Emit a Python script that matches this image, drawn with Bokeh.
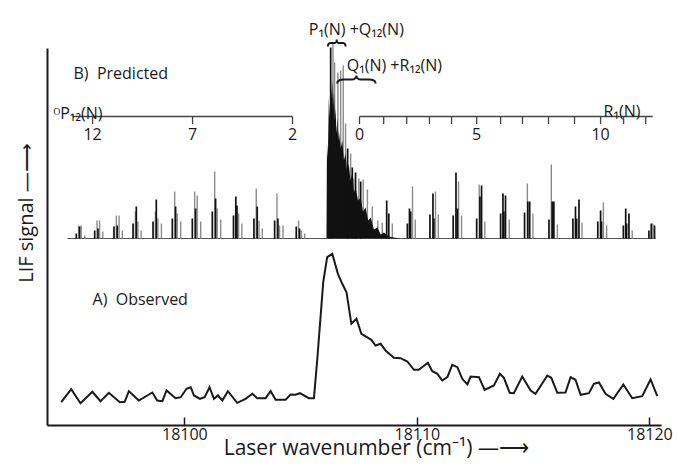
import numpy as np
from bokeh.plotting import figure
from bokeh.models import Range1d, Label
from bokeh.embed import file_html
from bokeh.resources import INLINE
from bokeh.core.properties import value

# ---------------- data ----------------
# A) observed LIF trace (wavenumber, signal in arbitrary units)
obs_wn = [18094.68, 18095.11, 18095.51, 18096.02, 18096.37, 18096.73, 18097.20, 18097.41, 18097.59,
          18098.02, 18098.60, 18098.81, 18099.03, 18099.21, 18099.60, 18099.82, 18100.07, 18100.25,
          18100.39, 18100.65, 18100.85, 18101.06, 18101.25, 18101.42, 18101.61, 18101.85, 18102.25,
          18102.61, 18102.90, 18103.11, 18103.47, 18103.69, 18103.90, 18104.33, 18104.55, 18104.76,
          18104.95, 18105.33, 18105.55, 18105.69, 18105.95, 18106.12, 18106.34, 18106.58, 18106.77,
          18106.95, 18107.16, 18107.38, 18107.59, 18108.02, 18108.20, 18108.42, 18108.63, 18108.99,
          18109.28, 18109.57, 18109.85, 18110.06, 18110.45, 18110.64, 18110.86, 18111.07, 18111.29,
          18111.50, 18111.72, 18111.93, 18112.15, 18112.29, 18112.65, 18112.89, 18113.29, 18113.55,
          18113.72, 18113.97, 18114.15, 18114.51, 18114.87, 18115.08, 18115.59, 18115.76, 18116.02,
          18116.37, 18116.59, 18116.80, 18117.02, 18117.38, 18117.59, 18117.81, 18118.09, 18118.43,
          18118.86, 18119.24, 18119.67, 18120.03, 18120.32]
obs_sig = [23.3, 36.3, 22.3, 33.7, 24.3, 32.7, 23.3, 23.7, 34.3, 25, 33, 25, 24.3, 35, 27.3, 28.3,
           36.7, 38.3, 30, 26.7, 28.3, 38.3, 26.7, 30, 25, 34.3, 22.7, 26.7, 31.7, 27.3, 27.3, 34.3,
           25.7, 25.7, 31, 30.7, 32.3, 27.3, 27.3, 65, 143.3, 168.3, 171.7, 151.7, 141.7, 133.3,
           101.7, 106.7, 91.7, 85.7, 80, 81.7, 75, 67.7, 67.3, 64, 55.7, 55.7, 62.7, 54.3, 51.7, 45,
           48.3, 60.7, 58.3, 46.7, 41, 49, 48.3, 35.7, 40, 51.7, 47.7, 32.7, 32.3, 49, 35, 31.7, 50,
           47.7, 32.7, 33, 48.3, 45.7, 30.7, 32.3, 41.7, 43, 31.7, 26.7, 41, 27.3, 29.3, 46, 29.3]

# B) predicted stick spectrum (intensity above its own baseline)
pred_span = [18094.95, 18120.25]

p12_black_wn = [18095.33, 18095.47, 18096.12, 18096.26, 18096.95, 18097.09, 18097.77, 18097.91,
                18098.63, 18098.77, 18099.46, 18099.60, 18100.32, 18100.46, 18101.18, 18101.32,
                18102.09, 18102.19, 18102.24, 18102.97, 18103.11, 18103.86, 18104.00, 18104.79,
                18104.93]
p12_black_h = [5, 12, 8, 10, 12, 13, 15, 32, 17, 39, 20, 32, 20, 30, 27, 40, 23, 42, 33, 20, 32,
               18, 20, 12, 10]
p12_gray_wn = [18095.43, 18095.54, 18095.69, 18096.22, 18096.33, 18096.47, 18097.05, 18097.17,
               18097.31, 18097.87, 18097.98, 18098.12, 18098.73, 18098.84, 18098.99, 18099.56,
               18099.67, 18099.82, 18100.42, 18100.53, 18100.68, 18101.28, 18101.39, 18101.54,
               18102.31, 18102.45, 18103.07, 18103.19, 18103.33, 18103.96, 18104.07, 18104.22,
               18104.89, 18105.01, 18105.15]
p12_gray_h = [13, 13, 3, 18, 18, 7, 23, 23, 8, 27, 17, 8, 27, 20, 15, 47, 25, 17, 47, 43, 17, 67,
              30, 19, 25, 15, 50, 18, 10, 45, 13, 13, 18, 8, 5]

r1_black_wn = [18108.68, 18108.77, 18109.57, 18109.66, 18109.71, 18110.54, 18110.67, 18110.71,
               18111.54, 18111.66, 18111.72, 18112.55, 18112.69, 18112.76, 18113.58, 18113.68,
               18113.72, 18113.79, 18114.61, 18114.75, 18114.83, 18115.66, 18115.80, 18115.87,
               18116.69, 18116.80, 18116.85, 18116.95, 18117.76, 18117.88, 18117.92, 18118.86,
               18118.96, 18119.00, 18119.10, 18119.96, 18120.06, 18120.20]
r1_black_h = [38, 25, 15, 30, 27, 24, 45, 20, 23, 66, 30, 20, 42, 53, 25, 45, 27, 43, 26, 37, 37,
              19, 37, 37, 20, 32, 20, 39, 17, 28, 17, 13, 30, 15, 25, 8, 15, 13]
r1_gray_wn = [18108.92, 18109.79, 18109.91, 18110.78, 18110.90, 18111.77, 18111.90, 18112.66,
              18112.90, 18113.95, 18114.73, 18114.97, 18115.76, 18116.02, 18117.08, 18118.00,
              18118.14, 18119.24, 18120.13]
r1_gray_h = [15, 52, 19, 47, 24, 57, 23, 54, 17, 19, 55, 25, 74, 14, 16, 36, 13, 8, 15]

head_black_wn = [18106.27, 18107.00, 18107.20, 18107.34, 18107.56]
head_black_h = [191, 90, 71, 66, 57]
head_gray_wn = [18106.37, 18106.44, 18106.58, 18106.70, 18106.81, 18106.91, 18107.13, 18107.26,
                18107.48, 18107.67, 18107.85, 18108.06, 18108.30, 18108.49]
head_gray_h = [195, 176, 166, 168, 173, 115, 85, 60, 60, 59, 49, 32, 18, 16]

# envelope of the unresolved band head P1(N)+Q12(N) / Q1(N)+R12(N)
band_wn = [18106.09, 18106.11, 18106.15, 18106.19, 18106.23, 18106.27, 18106.30, 18106.34,
           18106.37, 18106.41, 18106.45, 18106.48, 18106.52, 18106.56, 18106.59, 18106.62,
           18106.70, 18106.77, 18106.84, 18106.91, 18106.98, 18107.05, 18107.12, 18107.20,
           18107.27, 18107.34, 18107.45, 18107.56, 18107.66, 18107.77, 18107.88, 18107.99,
           18108.13, 18108.28, 18108.42, 18108.56, 18108.77, 18108.99, 18109.28]
band_h = [0, 95, 80, 141, 120, 171, 140, 158, 130, 148, 118, 131, 105, 121, 98, 108, 90, 98, 78,
          85, 66, 75, 58, 65, 46, 51, 38, 41, 27, 31, 18, 21, 9, 11, 4, 6, 2, 1, 0]

# rotational assignment ladders
p12_N = ["12", "7", "2"]
p12_wn = [18096.03, 18100.33, 18104.63]
p12_line = [18095.17, 18104.63]
r1_N = ["0", "", "", "", "", "5", "", "", "", "", "10", "", ""]
r1_wn = [18107.51, 18108.55, 18109.54, 18110.52, 18111.47, 18112.55, 18113.58, 18114.52,
         18115.64, 18116.76, 18117.88, 18118.87, 18119.82]
r1_line = [18107.51, 18120.12]

x_ticks = [18100, 18110, 18120]

# ---------------- figure ----------------
FONT = "Open Sans"
INK = "#1a1a1a"
GRAY = "#8c8c8c"
NB = "\u00a0"

p = figure(width=678, height=466, x_range=Range1d(18094.09, 18120.50), y_range=Range1d(0, 425),
           output_backend="svg", toolbar_location=None,
           min_border_left=47, min_border_right=17, min_border_top=0, min_border_bottom=41)
p.extra_y_ranges = {"pred": Range1d(-187, 238)}
p.outline_line_color = None
p.grid.visible = False

# x axis
p.xaxis.ticker = x_ticks
p.xaxis.major_tick_in = 8
p.xaxis.major_tick_out = 0
p.xaxis.minor_tick_line_color = None
p.xaxis.axis_line_width = 2
p.xaxis.axis_line_color = INK
p.xaxis.major_tick_line_color = INK
p.xaxis.major_tick_line_width = 1.5
p.xaxis.major_label_text_font = FONT
p.xaxis.major_label_text_font_size = "16px"
p.xaxis.major_label_text_color = INK
p.xaxis.major_label_standoff = 2
p.xaxis.axis_label = NB * 8 + "Laser wavenumber (cm\u207b\u00b9) \u2014\u27f6"
p.xaxis.axis_label_text_font = FONT
p.xaxis.axis_label_text_font_size = "21px"
p.xaxis.axis_label_text_font_style = "normal"
p.xaxis.axis_label_text_color = INK
p.xaxis.axis_label_standoff = -10

# y axis (no ticks, arrow label)
p.yaxis.ticker = []
p.yaxis.bounds = (0, 377)
p.yaxis.axis_line_width = 2
p.yaxis.axis_line_color = INK
p.yaxis.axis_label = "LIF signal \u2014\u27f6"
p.yaxis.axis_label_text_font = FONT
p.yaxis.axis_label_text_font_size = "20px"
p.yaxis.axis_label_text_font_style = "normal"
p.yaxis.axis_label_text_color = INK
p.yaxis.axis_label_standoff = 9

# observed trace
p.line(obs_wn, obs_sig, line_color=INK, line_width=2, line_join="miter")

# predicted stick spectrum
R = "pred"
p.line(pred_span, [0, 0], y_range_name=R, line_color="#555555", line_width=1)
gray_wn = p12_gray_wn + r1_gray_wn + head_gray_wn
gray_h = p12_gray_h + r1_gray_h + head_gray_h
p.segment(x0=gray_wn, y0=[0] * len(gray_wn), x1=gray_wn, y1=gray_h, y_range_name=R,
          line_color=GRAY, line_width=1.4)
p.varea(x=band_wn, y1=[0] * len(band_wn), y2=band_h, y_range_name=R, fill_color="#111111")
black_wn = p12_black_wn + r1_black_wn + head_black_wn
black_h = p12_black_h + r1_black_h + head_black_h
p.segment(x0=black_wn, y0=[0] * len(black_wn), x1=black_wn, y1=black_h, y_range_name=R,
          line_color="#111111", line_width=1.7)

# assignment ladders
LADDER_Y, TICK_Y, LAB_Y = 309, 301.5, 298
p.line(p12_line, [LADDER_Y] * 2, line_color="#444444", line_width=1.3)
p.segment(x0=p12_wn, y0=[LADDER_Y] * 3, x1=p12_wn, y1=[TICK_Y] * 3, line_color="#444444", line_width=1.3)
p.text(x=p12_wn, y=[LAB_Y] * 3, text=p12_N, text_align="center", text_baseline="top",
       text_font=value(FONT), text_font_size="16px", text_color=INK)
p.line(r1_line, [LADDER_Y] * 2, line_color="#444444", line_width=1.3)
p.segment(x0=r1_wn, y0=[LADDER_Y] * len(r1_wn), x1=r1_wn, y1=[TICK_Y] * len(r1_wn),
          line_color="#444444", line_width=1.3)
p.text(x=r1_wn, y=[LAB_Y] * len(r1_wn), text=r1_N, text_align="center", text_baseline="top",
       text_font=value(FONT), text_font_size="16px", text_color=INK)

# curly braces over the band heads
def brace(x0, x1, y_end, y_bar, y_tip, n=12):
    w = x1 - x0
    m = 0.5 * (x0 + x1)
    t = np.linspace(0, 1, n)[:, None]

    def quad(a, c, b):
        a, c, b = map(np.array, (a, c, b))
        return (1 - t) ** 2 * a + 2 * (1 - t) * t * c + t ** 2 * b

    pts = np.vstack([
        quad((x0, y_end), (x0, y_bar), (x0 + 0.18 * w, y_bar)),
        quad((m - 0.14 * w, y_bar), (m, y_bar), (m, y_tip)),
        quad((m, y_tip), (m, y_bar), (m + 0.14 * w, y_bar)),
        quad((x1 - 0.18 * w, y_bar), (x1, y_bar), (x1, y_end)),
    ])
    return list(pts[:, 0]), list(pts[:, 1])

braces = [(18106.15, 18106.91, 379, 382.5, 386), (18106.55, 18108.20, 342, 346, 350)]
bx, by = [], []
for b in braces:
    xs, ys = brace(*b)
    bx.append(xs)
    by.append(ys)
p.multi_line(bx, by, line_color=INK, line_width=2)

# text annotations
notes = [
    ("B)" + NB * 2 + "Predicted", 18095.21, 353),
    ("A)" + NB * 2 + "Observed", 18096.03, 127),
    ("\u1d3cP\u2081\u2082(N)", 18094.35, 313),
    ("P\u2081(N) +Q\u2081\u2082(N)", 18105.33, 397),
    ("Q\u2081(N) +R\u2081\u2082(N)", 18106.96, 361),
    ("R\u2081(N)", 18118.01, 315),
]
for txt, x, y in notes:
    p.add_layout(Label(x=x, y=y, text=txt, text_align="left", text_baseline="alphabetic",
                       text_font=FONT, text_font_size="16px", text_color=INK))

open("out.html", "w").write(file_html(p, INLINE))
